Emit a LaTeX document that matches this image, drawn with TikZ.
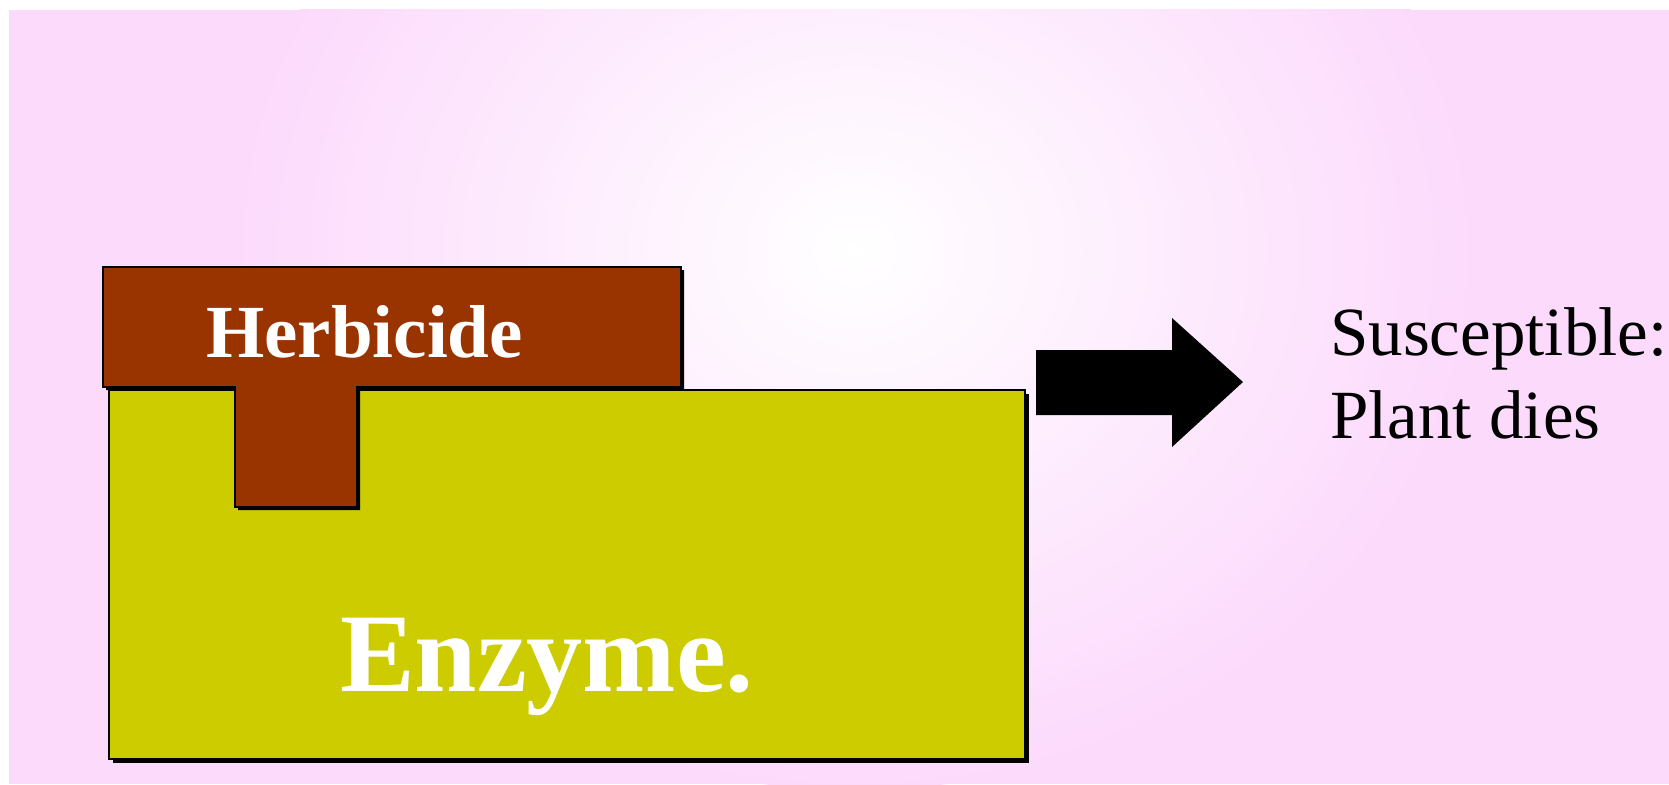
\documentclass[tikz,border=0pt]{standalone}
\usepackage{fontspec}
\setmainfont{Liberation Serif}
\definecolor{pinkbg}{RGB}{252,218,252}
\definecolor{herb}{RGB}{153,51,0}
\definecolor{enz}{RGB}{204,204,0}
\pgfdeclareradialshading{bgshade}{\pgfpoint{0bp}{0bp}}{color(0bp)=(white); color(25bp)=(pinkbg); color(50bp)=(pinkbg)}
\tikzset{
  shapeline/.style={draw=black, line width=2pt, line join=miter},
  whitebold/.style={text=white, font=\bfseries, inner sep=0pt},
  plaintext/.style={text=black, inner sep=0pt},
}
\begin{document}
\begin{tikzpicture}[x=1pt, y=-1pt]
\useasboundingbox (0,0) rectangle (1669,784);
\fill[white] (0,0) rectangle (1669,784);
% background
\fill[pinkbg] (9,10) rectangle (1669,784);
\begin{scope}
\clip (9,10) rectangle (1669,784);
\shade[shading=bgshade] (855,250) ellipse [x radius=620, y radius=540];
\end{scope}
% enzyme
\fill[black] (113,394) rectangle (1029,763);
\filldraw[fill=enz, shapeline] (109,390) rectangle (1025,759);
% herbicide T shape
\fill[black] ([shift={(3,3)}]103,267) -- ([shift={(3,3)}]681,267) -- ([shift={(3,3)}]681,387) -- ([shift={(3,3)}]357,387) -- ([shift={(3,3)}]357,507) -- ([shift={(3,3)}]235,507) -- ([shift={(3,3)}]235,387) -- ([shift={(3,3)}]103,387) -- cycle;
\filldraw[fill=herb, shapeline] (103,267) -- (681,267) -- (681,387) -- (357,387) -- (357,507) -- (235,507) -- (235,387) -- (103,387) -- cycle;
% labels
\node[whitebold, anchor=base west, font=\fontsize{75}{90}\selectfont\bfseries] (herbtext) at (206,357) {Herbicide};
\node[whitebold, anchor=base west, font=\fontsize{112}{130}\selectfont\bfseries] (enztext) at (340,691) {Enzyme.};
% arrow
\fill[black] (1036,350) -- (1172,350) -- (1172,318) -- (1243,382) -- (1172,447) -- (1172,415) -- (1036,415) -- cycle;
% result text
\node[plaintext, anchor=base west, font=\fontsize{69}{83}\selectfont] (res1) at (1330,355) {Susceptible:};
\node[plaintext, anchor=base west, font=\fontsize{69}{83}\selectfont] (res2) at (1330,438) {Plant dies};
\end{tikzpicture}
\end{document}
